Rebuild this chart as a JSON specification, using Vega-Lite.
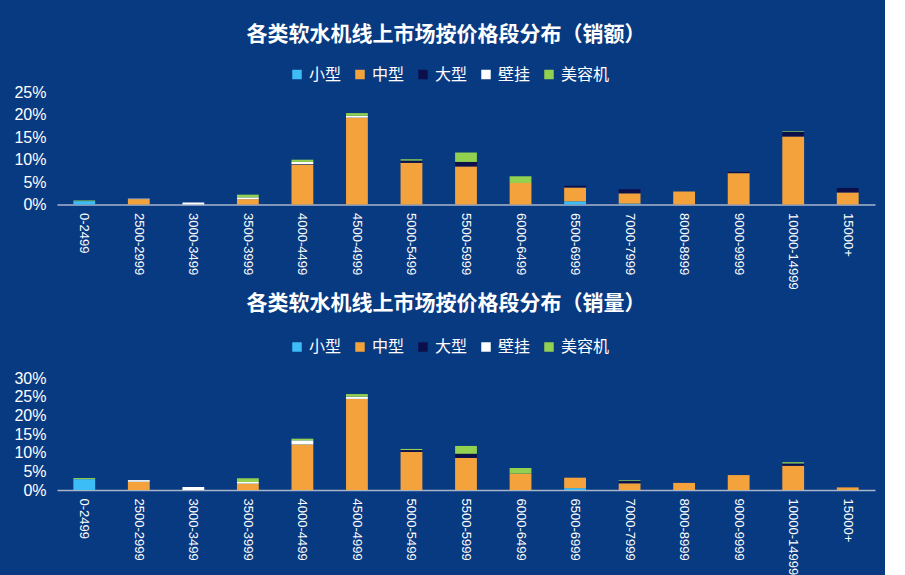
{
  "$schema": "https://vega.github.io/schema/vega-lite/v6.json",
  "background": "#083a82",
  "padding": {"left": 13, "top": 23.5, "right": 10, "bottom": 0},
  "spacing": 3.5,
  "datasets": {
    "types": [
      {"t": "小型", "k": 1},
      {"t": "中型", "k": 2},
      {"t": "大型", "k": 3},
      {"t": "壁挂", "k": 4},
      {"t": "美容机", "k": 5}
    ],
    "d": [
      {"c": "销额", "p": "0-2499", "t": "小型", "v": 0.75},
      {"c": "销额", "p": "0-2499", "t": "美容机", "v": 0.15},
      {"c": "销额", "p": "2500-2999", "t": "中型", "v": 1.2},
      {"c": "销额", "p": "2500-2999", "t": "壁挂", "v": 0.1},
      {"c": "销额", "p": "3000-3499", "t": "壁挂", "v": 0.45},
      {"c": "销额", "p": "3500-3999", "t": "中型", "v": 1.2},
      {"c": "销额", "p": "3500-3999", "t": "壁挂", "v": 0.4},
      {"c": "销额", "p": "3500-3999", "t": "美容机", "v": 0.6},
      {"c": "销额", "p": "4000-4499", "t": "中型", "v": 8.9},
      {"c": "销额", "p": "4000-4499", "t": "大型", "v": 0.1},
      {"c": "销额", "p": "4000-4499", "t": "壁挂", "v": 0.5},
      {"c": "销额", "p": "4000-4499", "t": "美容机", "v": 0.5},
      {"c": "销额", "p": "4500-4999", "t": "中型", "v": 19.4},
      {"c": "销额", "p": "4500-4999", "t": "壁挂", "v": 0.4},
      {"c": "销额", "p": "4500-4999", "t": "美容机", "v": 0.6},
      {"c": "销额", "p": "5000-5499", "t": "中型", "v": 9.3},
      {"c": "销额", "p": "5000-5499", "t": "大型", "v": 0.5},
      {"c": "销额", "p": "5000-5499", "t": "美容机", "v": 0.3},
      {"c": "销额", "p": "5500-5999", "t": "中型", "v": 8.5},
      {"c": "销额", "p": "5500-5999", "t": "大型", "v": 1.0},
      {"c": "销额", "p": "5500-5999", "t": "美容机", "v": 2.1},
      {"c": "销额", "p": "6000-6499", "t": "中型", "v": 4.8},
      {"c": "销额", "p": "6000-6499", "t": "美容机", "v": 1.5},
      {"c": "销额", "p": "6500-6999", "t": "小型", "v": 0.7},
      {"c": "销额", "p": "6500-6999", "t": "中型", "v": 3.1},
      {"c": "销额", "p": "6500-6999", "t": "大型", "v": 0.4},
      {"c": "销额", "p": "7000-7999", "t": "小型", "v": 0.2},
      {"c": "销额", "p": "7000-7999", "t": "中型", "v": 2.3},
      {"c": "销额", "p": "7000-7999", "t": "大型", "v": 0.9},
      {"c": "销额", "p": "8000-8999", "t": "中型", "v": 2.9},
      {"c": "销额", "p": "9000-9999", "t": "中型", "v": 7.0},
      {"c": "销额", "p": "9000-9999", "t": "大型", "v": 0.3},
      {"c": "销额", "p": "10000-14999", "t": "中型", "v": 15.2},
      {"c": "销额", "p": "10000-14999", "t": "大型", "v": 1.05},
      {"c": "销额", "p": "10000-14999", "t": "美容机", "v": 0.15},
      {"c": "销额", "p": "15000+", "t": "中型", "v": 2.7},
      {"c": "销额", "p": "15000+", "t": "大型", "v": 1.0},
      {"c": "销量", "p": "0-2499", "t": "小型", "v": 2.9},
      {"c": "销量", "p": "0-2499", "t": "美容机", "v": 0.3},
      {"c": "销量", "p": "2500-2999", "t": "中型", "v": 2.2},
      {"c": "销量", "p": "2500-2999", "t": "壁挂", "v": 0.45},
      {"c": "销量", "p": "3000-3499", "t": "壁挂", "v": 0.8},
      {"c": "销量", "p": "3500-3999", "t": "中型", "v": 1.7},
      {"c": "销量", "p": "3500-3999", "t": "壁挂", "v": 0.45},
      {"c": "销量", "p": "3500-3999", "t": "美容机", "v": 1.0},
      {"c": "销量", "p": "4000-4499", "t": "中型", "v": 12.2},
      {"c": "销量", "p": "4000-4499", "t": "壁挂", "v": 1.1},
      {"c": "销量", "p": "4000-4499", "t": "美容机", "v": 0.45},
      {"c": "销量", "p": "4500-4999", "t": "中型", "v": 24.4},
      {"c": "销量", "p": "4500-4999", "t": "壁挂", "v": 0.6},
      {"c": "销量", "p": "4500-4999", "t": "美容机", "v": 0.7},
      {"c": "销量", "p": "5000-5499", "t": "中型", "v": 10.2},
      {"c": "销量", "p": "5000-5499", "t": "大型", "v": 0.5},
      {"c": "销量", "p": "5000-5499", "t": "美容机", "v": 0.3},
      {"c": "销量", "p": "5500-5999", "t": "中型", "v": 8.6},
      {"c": "销量", "p": "5500-5999", "t": "大型", "v": 1.1},
      {"c": "销量", "p": "5500-5999", "t": "美容机", "v": 2.1},
      {"c": "销量", "p": "6000-6499", "t": "中型", "v": 4.4},
      {"c": "销量", "p": "6000-6499", "t": "美容机", "v": 1.5},
      {"c": "销量", "p": "6500-6999", "t": "小型", "v": 0.5},
      {"c": "销量", "p": "6500-6999", "t": "中型", "v": 2.8},
      {"c": "销量", "p": "7000-7999", "t": "中型", "v": 1.8},
      {"c": "销量", "p": "7000-7999", "t": "大型", "v": 0.6},
      {"c": "销量", "p": "7000-7999", "t": "美容机", "v": 0.2},
      {"c": "销量", "p": "8000-8999", "t": "中型", "v": 1.9},
      {"c": "销量", "p": "9000-9999", "t": "中型", "v": 4.0},
      {"c": "销量", "p": "10000-14999", "t": "中型", "v": 6.5},
      {"c": "销量", "p": "10000-14999", "t": "大型", "v": 0.6},
      {"c": "销量", "p": "10000-14999", "t": "美容机", "v": 0.35},
      {"c": "销量", "p": "15000+", "t": "中型", "v": 0.7}
    ]
  },
  "data": {"name": "d"},
  "resolve": {"legend": {"color": "independent"}},
  "vconcat": [
    {
      "title": {"text": "各类软水机线上市场按价格段分布（销额）", "offset": 22},
      "transform": [
        {"filter": "datum.c === '销额'"},
        {"lookup": "t", "from": {"data": {"name": "types"}, "key": "t", "fields": ["k"]}}
      ],
      "width": 818,
      "height": 112,
      "mark": {"type": "bar"},
      "encoding": {
        "x": {
          "field": "p", "type": "nominal", "title": null,
          "sort": ["0-2499","2500-2999","3000-3499","3500-3999","4000-4499","4500-4999","5000-5499","5500-5999","6000-6499","6500-6999","7000-7999","8000-8999","9000-9999","10000-14999","15000+"],
          "scale": {"paddingInner": 0.6, "paddingOuter": 0.3}
        },
        "y": {
          "field": "v", "type": "quantitative", "title": null, "stack": "zero",
          "scale": {"domain": [0, 25]},
          "axis": {"values": [0, 5, 10, 15, 20, 25], "labelExpr": "datum.value + '%'"}
        },
        "order": {"field": "k", "type": "quantitative", "sort": "ascending"},
        "color": {
          "field": "t", "type": "nominal",
          "scale": {"domain": ["小型", "中型", "大型", "壁挂", "美容机"], "range": ["#3cbdf6", "#f4a23c", "#0d0f4b", "#ffffff", "#92d050"]},
          "legend": {"orient": "none", "legendX": 232, "legendY": -26, "direction": "horizontal", "title": null}
        }
      }
    },
    {
      "title": {"text": "各类软水机线上市场按价格段分布（销量）", "offset": 25},
      "transform": [
        {"filter": "datum.c === '销量'"},
        {"lookup": "t", "from": {"data": {"name": "types"}, "key": "t", "fields": ["k"]}}
      ],
      "width": 818,
      "height": 112,
      "mark": {"type": "bar"},
      "encoding": {
        "x": {
          "field": "p", "type": "nominal", "title": null,
          "sort": ["0-2499","2500-2999","3000-3499","3500-3999","4000-4499","4500-4999","5000-5499","5500-5999","6000-6499","6500-6999","7000-7999","8000-8999","9000-9999","10000-14999","15000+"],
          "scale": {"paddingInner": 0.6, "paddingOuter": 0.3}
        },
        "y": {
          "field": "v", "type": "quantitative", "title": null, "stack": "zero",
          "scale": {"domain": [0, 30]},
          "axis": {"values": [0, 5, 10, 15, 20, 25, 30], "labelExpr": "datum.value + '%'"}
        },
        "order": {"field": "k", "type": "quantitative", "sort": "ascending"},
        "color": {
          "field": "t", "type": "nominal",
          "scale": {"domain": ["小型", "中型", "大型", "壁挂", "美容机"], "range": ["#3cbdf6", "#f4a23c", "#0d0f4b", "#ffffff", "#92d050"]},
          "legend": {"orient": "none", "legendX": 232, "legendY": -39, "direction": "horizontal", "title": null}
        }
      }
    }
  ],
  "config": {
    "view": {"stroke": null},
    "font": "Liberation Sans",
    "title": {"color": "#ffffff", "fontSize": 21, "fontWeight": "bold", "font": "Noto Sans CJK SC", "anchor": "middle", "dx": -20},
    "axis": {"grid": false, "ticks": false, "labelColor": "#ffffff", "labelFont": "Liberation Sans"},
    "axisX": {"labelAngle": 90, "labelFontSize": 13, "labelPadding": 8, "domainColor": "#a9b4c8", "domainWidth": 1.5, "labelBaseline": "middle", "labelAlign": "left"},
    "axisY": {"domain": false, "labelFontSize": 16, "labelPadding": 11},
    "legend": {"symbolType": "square", "symbolSize": 90, "symbolStrokeWidth": 0, "labelColor": "#ffffff", "labelFontSize": 16, "labelFont": "Noto Sans CJK SC", "labelOffset": 4, "columnPadding": 10}
  }
}
